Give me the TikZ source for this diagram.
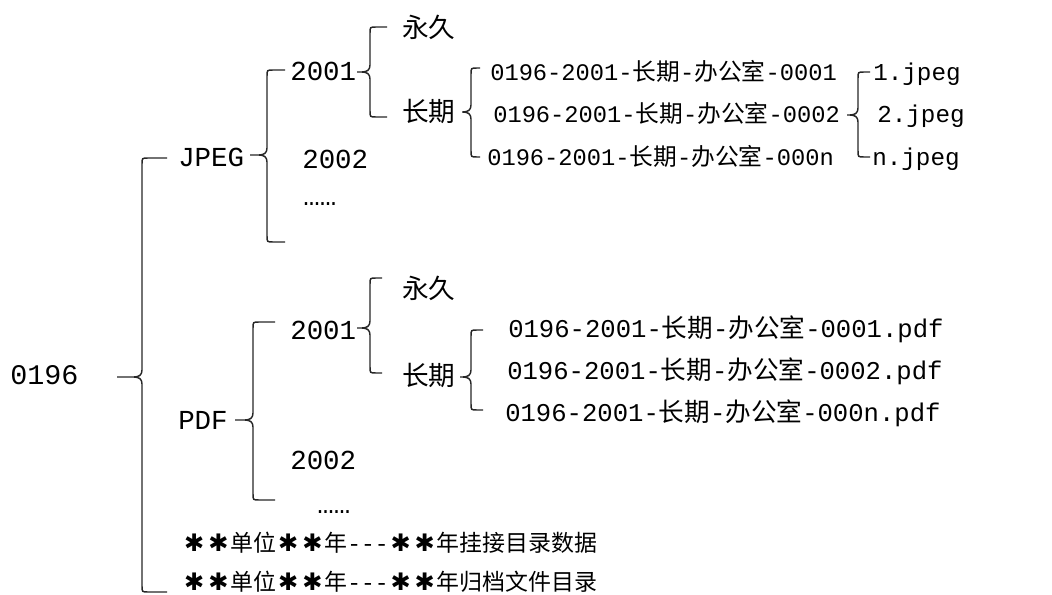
\documentclass[tikz,border=0pt]{standalone}
\usepackage{fontspec}
\newfontfamily\mono{Liberation Mono}
\newfontfamily\cjk{Noto Sans CJK SC}
\newfontfamily\symf{DejaVu Sans}
\newcommand\C[1]{{\cjk #1}}
\newcommand\M[1]{{\mono #1}}
\newcommand\st{\makebox[1.05em]{\scalebox{1.05}{\symf ✱}}}
\newcommand\fs[1]{\fontsize{#1}{#1}\selectfont}
\newcommand\fname[1]{\M{0196-2001-}\C{长期}\M{-}\C{办公室}\M{-#1}}
% brace: cuspx, vx, tipx, ytop, ycusp, ybot
\newcommand\brc[6]{%
\draw[brc] (#3,#4) -- ({#2+6},#4) .. controls (#2,#4) and (#2,#4) .. (#2,{#4+6}) -- (#2,{#5-7}) .. controls (#2,{#5-2}) and ({#2-3},#5) .. ({#2-8},#5) -- (#1,#5);
\draw[brc] ({#2-8},#5) .. controls ({#2-3},#5) and (#2,{#5+2}) .. (#2,{#5+7}) -- (#2,{#6-6}) .. controls (#2,#6) and (#2,#6) .. ({#2+6},#6) -- (#3,#6);}
\tikzset{
  brc/.style={line width=1.1pt, black!85},
  lbl/.style={anchor=base west, inner sep=0pt, font=\mono\fs{20.6}},
  cj/.style={anchor=base west, inner sep=0pt, font=\cjk\fs{20}},
  jf/.style={anchor=base west, inner sep=0pt, font=\fs{17.8}},
  pf/.style={anchor=base west, inner sep=0pt, font=\fs{19.2}},
  bt/.style={anchor=base west, inner sep=0pt, font=\cjk\fs{17.2}},
}
\begin{document}
\begin{tikzpicture}[x=0.75pt,y=-0.75pt]
\useasboundingbox (0,0) rectangle (1052,595);
% labels
\node[lbl,font=\mono\fs{21.3}] (root) at (10,384) {0196};
\node[lbl] (jpeg) at (178,167) {JPEG};
\node[lbl] (j2001) at (290,81) {2001};
\node[lbl] (j2002) at (302,169) {2002};
\node[lbl] (jdots) at (303,206) {……};
\node[cj] (jyj) at (402,38) {永久};
\node[cj] (jcq) at (402,122) {长期};
\node[jf] (jf1) at (490,81) {\fname{0001}};
\node[jf] (jf2) at (493,123) {\fname{0002}};
\node[jf] (jfn) at (487,166) {\fname{000n}};
\node[jf,font=\mono\fs{18.2}] (jp1) at (873,81) {1.jpeg};
\node[jf,font=\mono\fs{18.2}] (jp2) at (877,123) {2.jpeg};
\node[jf,font=\mono\fs{18.2}] (jpn) at (872,166) {n.jpeg};
\node[lbl] (pdf) at (178,429) {PDF};
\node[lbl] (p2001) at (290,339) {2001};
\node[lbl] (p2002) at (290,469) {2002};
\node[lbl] (pdots) at (317,513) {……};
\node[cj] (pyj) at (402,298) {永久};
\node[cj] (pcq) at (402,385) {长期};
\node[pf] (pf1) at (508,337) {\fname{0001.pdf}};
\node[pf] (pf2) at (507,379) {\fname{0002.pdf}};
\node[pf] (pfn) at (505,421) {\fname{000n.pdf}};
\node[bt] (b1) at (182,551) {\st\st 单位\st\st 年\M{-{}-{}-}\st\st 年挂接目录数据};
\node[bt] (b2) at (182,590) {\st\st 单位\st\st 年\M{-{}-{}-}\st\st 年归档文件目录};
% braces
\brc{117}{142}{167}{158}{377}{592}
\brc{250}{267}{285}{70}{155}{242}
\brc{357}{370}{387}{27}{72}{117}
\brc{462}{471}{480}{68}{112}{157}
\brc{847}{858}{870}{72}{115}{157}
\brc{235}{253}{275}{322}{420}{500}
\brc{357}{370}{382}{278}{328}{373}
\brc{460}{471}{483}{330}{377}{410}
\end{tikzpicture}
\end{document}
